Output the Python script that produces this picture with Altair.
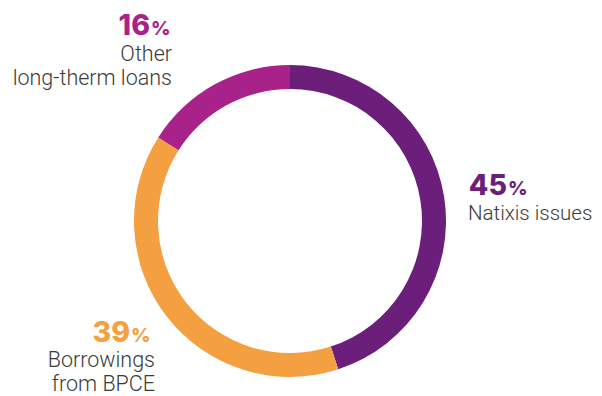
import altair as alt
import pandas as pd

categories = ["Natixis issues", "Borrowings from BPCE", "Other long-therm loans"]
values = [45, 39, 16]
colors = ["#6C1E7B", "#F4A040", "#A8228A"]

df = pd.DataFrame({"category": categories, "value": values, "order": [0, 1, 2]})

W, H = 586, 388
CX, CY = 282, 213

arc = alt.Chart(df).mark_arc(outerRadius=156, innerRadius=132, stroke=None).encode(
    theta=alt.Theta("value:Q", stack=True),
    order=alt.Order("order:Q"),
    color=alt.Color("category:N", scale=alt.Scale(domain=categories, range=colors), legend=None),
    x=alt.value(CX), y=alt.value(CY),
)

num_font = "Inter"
lab_font = "Roboto"
lab_color = "#3a3a3a"

def num(text, x, y, color):
    return alt.Chart(pd.DataFrame({"t": [text]})).mark_text(
        font=num_font, fontWeight=800, fontSize=28.5, color=color, align="right", baseline="alphabetic"
    ).encode(text="t:N", x=alt.value(x), y=alt.value(y))

def pct(x, y, color):
    return alt.Chart(pd.DataFrame({"t": ["%"]})).mark_text(
        font=num_font, fontWeight=800, fontSize=19, color=color, align="left", baseline="alphabetic"
    ).encode(text="t:N", x=alt.value(x), y=alt.value(y))

def lab(text, x, y, align, size=21.5):
    return alt.Chart(pd.DataFrame({"t": [text]})).mark_text(
        font=lab_font, fontWeight=300, fontSize=size, color=lab_color, align=align, baseline="alphabetic"
    ).encode(text="t:N", x=alt.value(x), y=alt.value(y))

pcts = [f"{v}" for v in values]

layers = [
    arc,
    # Natixis issues
    num(pcts[0], 499, 187, colors[0]), pct(500, 187, colors[0]),
    lab("Natixis issues", 460, 212, "left", 20.5),
    # Borrowings
    num(pcts[1], 122, 334, colors[1]), pct(123, 334, colors[1]),
    lab("Borrowings", 147, 359, "right"), lab("from BPCE", 147, 383, "right"),
    # Other
    num(pcts[2], 142, 27, colors[2]), pct(143, 27, colors[2]),
    lab("Other", 164, 53, "right"), lab("long-therm loans", 164, 77, "right"),
]

chart = alt.layer(*layers).properties(
    width=W, height=H, autosize=alt.AutoSizeParams(type="none"), padding=0
).configure_view(stroke=None)

chart.save("out.html", embed_options={"renderer": "svg", "actions": False})
